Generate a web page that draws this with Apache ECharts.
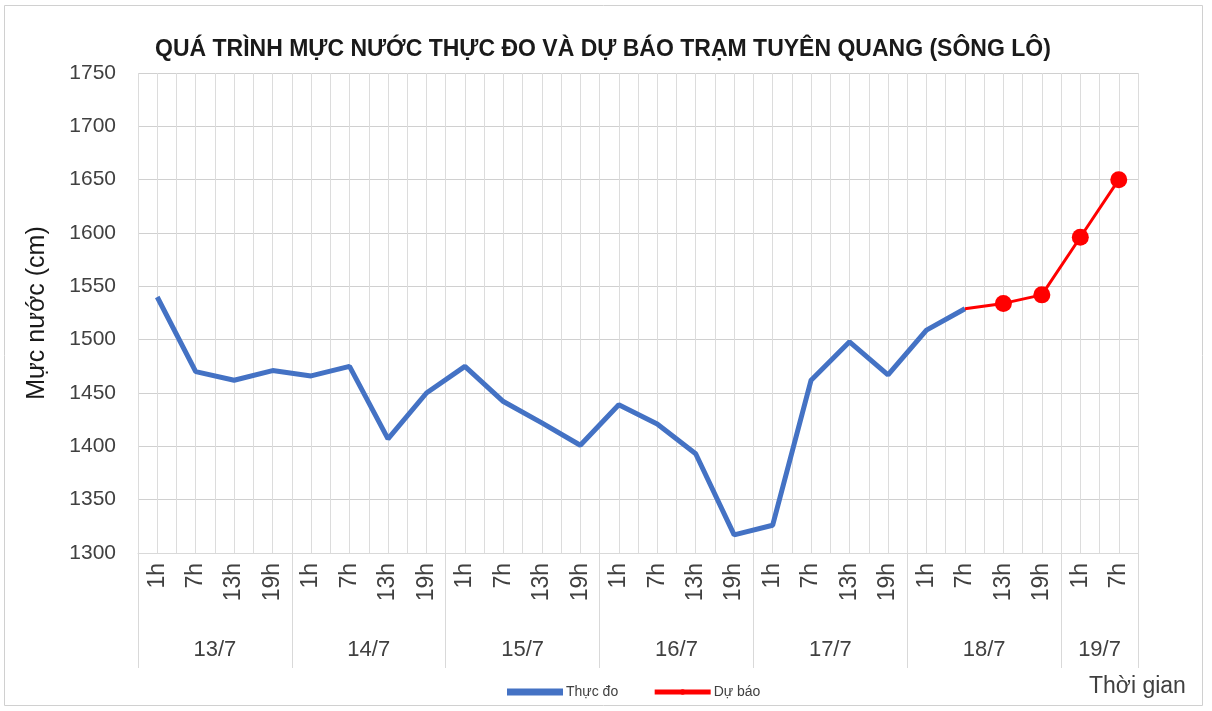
<!DOCTYPE html>
<html>
<head>
<meta charset="utf-8">
<script src="https://cdn.jsdelivr.net/npm/echarts@6/dist/echarts.min.js"></script>
<style>
html,body{margin:0;padding:0;background:#fff;}
#chart{width:1212px;height:711px;}
</style>
</head>
<body>
<div id="chart"></div>
<script>
const hours = ['1h','7h','13h','19h','1h','7h','13h','19h','1h','7h','13h','19h','1h','7h','13h','19h','1h','7h','13h','19h','1h','7h','13h','19h','1h','7h'];
const dates = ['13/7','14/7','15/7','16/7','17/7','18/7','19/7'];
const dateSizes = [4,4,4,4,4,4,2];
const yTicks = [1300,1350,1400,1450,1500,1550,1600,1650,1700,1750];
const observed = [1540,1470,1462,1471, 1466,1475,1407,1450, 1475,1442,1422,1401, 1439,1421,1393,1317, 1326,1462,1498,1467, 1509,1529];
const forecast = [null,null,null,null, null,null,null,null, null,null,null,null, null,null,null,null, null,null,null,null, null,1529,1534,1542,1596,1650];

const FONT = '"Liberation Sans Narrow","Liberation Sans",sans-serif';
const n = hours.length;
const bounds = [0];
dateSizes.forEach(s => bounds.push(bounds[bounds.length-1] + s));
const centers = dateSizes.map((s,i) => bounds[i] + s/2);
const firstF = forecast.findIndex(v => v !== null);
const forecastData = forecast.map((v,i) => v === null ? null : (i === firstF ? {value:v, symbol:'none'} : v));

const chart = echarts.init(document.getElementById('chart'));
chart.setOption({
  animation:false,
  backgroundColor:'#fff',
  title:{text:'QUÁ TRÌNH MỰC NƯỚC THỰC ĐO VÀ DỰ BÁO TRẠM TUYÊN QUANG (SÔNG LÔ)', left:150, top:33,
    textStyle:{fontFamily:FONT, fontSize:23, fontWeight:'bold', color:'#1a1a1a'}},
  legend:{data:[{name:'Thực đo', icon:'rect'},{name:'Dự báo'}], left:502, top:680, itemWidth:56, itemHeight:7, itemGap:34,
    lineStyle:{width:5},
    textStyle:{fontFamily:FONT, fontSize:14, color:'#404040', padding:[0,0,0,-2]}},
  grid:{left:138, right:74, top:73, bottom:158, containLabel:false},
  graphic:[
    {type:'rect', shape:{x:4.5,y:5.5,width:1198,height:700}, style:{fill:'none', stroke:'#d0d0d0', lineWidth:1}, z:-10},
    {type:'text', left:1089, top:675, style:{text:'Thời gian', font:'23px '+FONT, fill:'#404040'}}
  ],
  xAxis:[
    {type:'category', data:hours, boundaryGap:true, position:'bottom',
      axisLine:{show:true, lineStyle:{color:'#d9d9d9', width:1}},
      axisTick:{show:false},
      axisLabel:{rotate:90, interval:0, margin:10, fontFamily:FONT, fontSize:23, color:'#404040'},
      splitLine:{show:false}},
    {type:'value', min:0, max:n, interval:0.5, position:'bottom',
      axisLine:{show:false}, axisTick:{show:false}, axisLabel:{show:false},
      splitLine:{show:true, lineStyle:{color:'#dcdcdc', width:1}}},
    {type:'value', min:0, max:n, position:'bottom', offset:0,
      axisLine:{show:false},
      axisTick:{show:true, customValues:bounds, length:115, lineStyle:{color:'#d9d9d9', width:1}},
      axisLabel:{show:true, customValues:centers, margin:86, fontFamily:FONT, fontSize:22, color:'#404040',
        formatter:function(v){ const i = centers.indexOf(v); return i >= 0 ? dates[i] : ''; }},
      splitLine:{show:false}}
  ],
  yAxis:{type:'value', min:yTicks[0], max:yTicks[yTicks.length-1], interval:50,
    name:'Mực nước (cm)', nameLocation:'middle', nameRotate:90, nameGap:88,
    nameTextStyle:{fontFamily:FONT, fontSize:25, color:'#1a1a1a'},
    axisLine:{show:false}, axisTick:{show:false},
    axisLabel:{fontFamily:FONT, fontSize:21, color:'#404040', margin:22, formatter:function(v){ return String(v); }},
    splitLine:{show:true, lineStyle:{color:'#d0d0d0', width:1}}},
  series:[
    {name:'Thực đo', type:'line', data:observed, xAxisIndex:0, symbol:'none',
      lineStyle:{color:'#4472C4', width:5}, itemStyle:{color:'#4472C4'}, z:2},
    {name:'Dự báo', type:'line', data:forecastData, xAxisIndex:0, symbol:'circle', symbolSize:17,
      lineStyle:{color:'#FF0000', width:3}, itemStyle:{color:'#FF0000'}, z:3}
  ]
});
</script>
</body>
</html>
